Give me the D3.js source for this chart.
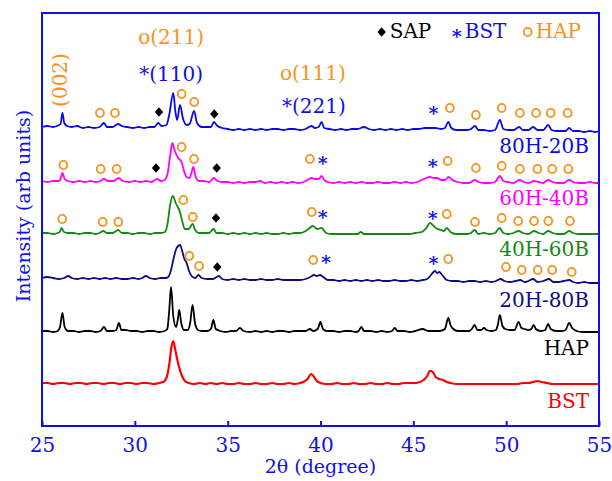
<!DOCTYPE html>
<html>
<head>
<meta charset="utf-8">
<script src="https://cdn.jsdelivr.net/npm/d3@7"></script>
<style>
  html, body { margin: 0; padding: 0; background: #fff; }
  svg { display: block; }
  text { font-family: "DejaVu Serif", "Liberation Serif", serif; }
</style>
</head>
<body>
<svg id="chart" width="612" height="481"></svg>
<script>
// XRD patterns, 2θ (degree) vs relative intensity above each pattern's own baseline
const pat80H20B = [[25.0,0],[25.3,1],[25.6,0],[25.8,1],[26.0,3],[26.1,14],[26.2,4],[26.35,1],[26.6,0],[26.9,1],[27.2,-1],[27.5,0],[27.8,-1],[28.1,0],[28.34,4],[28.5,0],[28.8,0],[29.1,3],[29.3,1],[29.6,0],[29.9,-1],[30.2,0],[30.5,-1],[30.8,0],[31.05,0],[31.26,4],[31.45,1],[31.7,2],[31.85,12],[32.07,34],[32.18,16],[32.28,7],[32.43,22],[32.6,8],[32.8,2],[32.95,3],[33.19,16],[33.35,4],[33.6,0],[33.9,0],[34.1,0],[34.26,5],[34.45,1],[34.7,-1],[35.0,-2],[35.3,-3],[35.6,-2],[35.9,-3],[36.2,-2],[36.5,-3],[36.8,-2],[37.1,-3],[37.4,-2],[37.7,-2],[38.0,-3],[38.3,-2],[38.6,-2],[38.9,-3],[39.2,-2],[39.52,1],[39.7,-1],[39.9,0],[40.06,5],[40.2,-1],[40.5,-2],[40.8,-3],[41.1,-2],[41.4,-3],[41.7,-2],[42.0,-2],[42.34,0],[42.6,-2],[42.9,-3],[43.2,-2],[43.5,-3],[43.8,-2],[44.1,-3],[44.4,-2],[44.7,-3],[45.0,-2],[45.3,-2],[45.6,-1],[45.9,-1],[46.2,-1],[46.5,-2],[46.7,-1],[46.88,5],[47.05,-1],[47.3,-3],[47.6,-3],[47.9,-3],[48.1,-2],[48.32,1],[48.5,-3],[48.8,-3],[49.1,-4],[49.4,-3],[49.66,7],[49.85,-2],[50.1,-3],[50.4,-3],[50.7,0],[50.9,-3],[51.2,-3],[51.45,0],[51.7,-3],[52.0,-3],[52.26,2],[52.45,-3],[52.7,-4],[53.0,-4],[53.2,-4],[53.39,-1],[53.6,-4],[53.9,-4],[54.2,-5],[54.5,-4],[54.8,-5],[55.0,-4]];

const pat60H40B = [[25.0,0],[25.3,-1],[25.6,0],[25.9,0],[26.0,2],[26.1,8],[26.22,2],[26.4,0],[26.7,-1],[27.0,0],[27.3,-1],[27.6,0],[27.9,-1],[28.15,0],[28.34,2],[28.55,0],[28.85,0],[29.14,3],[29.35,0],[29.7,-1],[30.0,0],[30.3,-1],[30.6,0],[30.9,-1],[31.2,2],[31.4,0],[31.6,1],[31.75,6],[31.9,25],[32.02,38],[32.15,30],[32.34,23],[32.52,19],[32.65,10],[32.79,4],[32.95,3],[33.05,8],[33.15,14],[33.28,4],[33.45,0],[33.7,0],[34.0,-1],[34.26,3],[34.45,0],[34.7,-1],[35.0,-1],[35.3,-2],[35.6,-1],[35.9,-2],[36.2,-1],[36.5,-1],[36.75,0],[37.0,-2],[37.3,-1],[37.6,-2],[37.9,-1],[38.2,-2],[38.5,-1],[38.8,-2],[39.1,-1],[39.3,1],[39.52,3],[39.7,2],[39.9,2],[40.06,5],[40.2,1],[40.4,-1],[40.7,-2],[41.0,-1],[41.3,-2],[41.6,-1],[41.9,-2],[42.2,-1],[42.5,-2],[42.8,-2],[43.1,-1],[43.4,-2],[43.7,-2],[44.0,-1],[44.3,-2],[44.6,-1],[44.9,-2],[45.2,-1],[45.45,1],[45.7,3],[45.9,4],[46.1,3],[46.3,3],[46.5,1],[46.7,1],[46.9,4],[47.1,1],[47.4,-1],[47.7,-2],[48.0,-2],[48.3,1],[48.5,-1],[48.8,-2],[49.1,-2],[49.4,-1],[49.66,5],[49.85,0],[50.1,-1],[50.4,-2],[50.7,1],[50.95,-1],[51.2,-2],[51.5,0],[51.75,-1],[52.0,-2],[52.26,1],[52.5,-1],[52.8,-2],[53.1,-2],[53.39,1],[53.6,-1],[53.9,-2],[54.2,-2],[54.5,-1],[54.8,-2],[55.0,-2]];

const pat40H60B = [[25.0,0],[25.3,0],[25.6,-1],[25.85,0],[25.95,1],[26.06,5],[26.18,1],[26.4,0],[26.7,0],[27.0,-1],[27.3,0],[27.6,0],[27.9,-1],[28.1,0],[28.3,2],[28.5,0],[28.8,0],[29.1,3],[29.3,0],[29.6,0],[29.9,-1],[30.2,0],[30.5,0],[30.8,-1],[31.1,0],[31.4,0],[31.62,1],[31.75,8],[31.9,28],[32.04,37],[32.2,30],[32.43,21],[32.55,12],[32.7,4],[32.9,4],[33.11,9],[33.25,3],[33.45,0],[33.7,0],[34.0,0],[34.23,4],[34.4,0],[34.7,0],[35.0,-1],[35.3,0],[35.6,-1],[35.9,0],[36.2,-1],[36.5,0],[36.8,-1],[37.1,0],[37.4,-1],[37.7,-1],[38.0,0],[38.3,-1],[38.6,0],[38.9,0],[39.1,1],[39.35,4],[39.58,7],[39.83,4],[40.06,5],[40.3,0],[40.6,-1],[40.9,-1],[41.2,-1],[41.5,-1],[41.8,-1],[42.0,-1],[42.17,1],[42.35,-1],[42.7,-1],[43.0,-1],[43.3,-1],[43.6,-1],[43.9,-1],[44.2,-1],[44.5,-1],[44.8,-1],[45.1,0],[45.45,1],[45.7,5],[45.9,10],[46.1,7],[46.3,4],[46.5,3],[46.65,2],[46.8,5],[47.0,1],[47.3,-1],[47.6,-1],[47.9,-1],[48.1,0],[48.3,3],[48.5,-1],[48.8,0],[49.1,-1],[49.4,0],[49.65,5],[49.85,0],[50.1,-1],[50.4,0],[50.67,2],[50.9,0],[51.2,-1],[51.5,2],[51.75,0],[52.0,-1],[52.26,2],[52.5,0],[52.8,-1],[53.1,-1],[53.4,2],[53.6,0],[53.9,-1],[54.2,-1],[54.5,-1],[54.8,-1],[55.0,-1]];

const pat20H80B = [[25.0,0],[25.3,1],[25.6,0],[25.9,-1],[26.2,0],[26.42,2],[26.6,0],[26.9,-1],[27.2,0],[27.5,-1],[27.8,0],[28.1,-1],[28.4,0],[28.7,-1],[29.0,0],[29.3,-1],[29.6,-1],[29.9,0],[30.2,-1],[30.4,0],[30.6,2],[30.8,0],[31.1,-1],[31.4,0],[31.65,0],[31.8,1],[31.95,8],[32.07,18],[32.25,30],[32.43,33],[32.55,27],[32.65,20],[32.79,15],[32.92,7],[33.06,2],[33.25,0],[33.43,3],[33.6,0],[33.9,-1],[34.2,-1],[34.53,2],[34.7,-1],[35.0,-2],[35.3,-1],[35.6,-2],[35.9,-1],[36.2,-2],[36.5,-2],[36.8,-1],[37.1,-2],[37.4,-2],[37.7,-1],[38.0,-2],[38.3,-2],[38.6,-2],[38.9,-2],[39.2,-1],[39.45,1],[39.65,3],[39.8,2],[39.97,3],[40.15,1],[40.4,-2],[40.7,-2],[41.0,-3],[41.3,-2],[41.6,-3],[41.9,-2],[42.2,-3],[42.5,-2],[42.8,-3],[43.1,-2],[43.4,-3],[43.7,-3],[44.0,-2],[44.3,-3],[44.6,-3],[44.9,-2],[45.2,-3],[45.5,-2],[45.75,-1],[45.95,3],[46.16,7],[46.28,5],[46.4,6],[46.55,3],[46.8,-2],[47.1,-3],[47.4,-3],[47.7,-4],[48.0,-3],[48.3,-3],[48.6,-4],[48.9,-3],[49.2,-4],[49.45,-3],[49.7,-1],[49.9,-3],[50.2,-4],[50.5,-3],[50.75,-2],[51.0,-4],[51.2,-3],[51.45,-1],[51.7,-4],[52.0,-3],[52.3,-1],[52.55,-4],[52.8,-4],[53.1,-3],[53.4,-2],[53.6,-4],[53.9,-5],[54.2,-4],[54.5,-5],[54.8,-5],[55.0,-5]];

const patHAP = [[25.0,0],[25.3,0],[25.6,-1],[25.85,0],[25.97,4],[26.1,18],[26.22,4],[26.4,0],[26.7,0],[27.0,-1],[27.3,0],[27.6,0],[27.9,-1],[28.15,0],[28.34,4],[28.5,0],[28.8,0],[29.0,1],[29.14,8],[29.28,1],[29.5,1],[29.8,0],[30.1,0],[30.4,-1],[30.7,0],[31.0,0],[31.3,-1],[31.6,0],[31.75,2],[31.85,20],[31.95,44],[32.07,15],[32.22,4],[32.32,12],[32.39,21],[32.5,8],[32.65,1],[32.85,1],[32.98,8],[33.11,26],[33.24,8],[33.4,1],[33.6,0],[33.9,0],[34.1,2],[34.23,11],[34.36,2],[34.6,0],[34.9,-1],[35.2,0],[35.45,0],[35.66,3],[35.85,0],[36.2,-1],[36.5,0],[36.8,-1],[37.1,0],[37.4,-1],[37.7,0],[38.0,0],[38.3,-1],[38.6,0],[38.9,0],[39.2,0],[39.43,2],[39.6,0],[39.85,2],[40.0,9],[40.13,2],[40.35,0],[40.7,0],[41.0,-1],[41.3,0],[41.6,0],[41.9,-1],[42.05,0],[42.2,4],[42.35,0],[42.7,0],[43.0,-1],[43.3,0],[43.6,-1],[43.85,0],[44.0,3],[44.15,0],[44.5,0],[44.8,-1],[45.1,0],[45.5,2],[45.8,0],[46.1,0],[46.4,0],[46.7,2],[46.88,13],[47.0,6],[47.15,2],[47.4,0],[47.7,0],[48.0,0],[48.15,2],[48.3,6],[48.45,1],[48.65,1],[48.8,3],[48.95,1],[49.2,0],[49.45,1],[49.55,6],[49.66,16],[49.8,5],[49.95,2],[50.2,1],[50.45,1],[50.67,9],[50.82,3],[51.0,2],[51.2,1],[51.35,2],[51.48,6],[51.6,2],[51.85,0],[52.1,1],[52.26,7],[52.4,2],[52.7,0],[53.0,0],[53.2,1],[53.39,8],[53.55,3],[53.8,0],[54.1,-1],[54.4,-1],[54.7,-1],[55.0,-1]];

const patBST = [[25.0,0],[25.3,0],[25.6,-1],[25.9,0],[26.2,0],[26.5,-1],[26.8,0],[27.1,0],[27.4,-1],[27.7,0],[28.0,0],[28.3,-1],[28.6,0],[28.9,0],[29.2,-1],[29.5,0],[29.8,0],[30.1,-1],[30.4,0],[30.7,0],[31.0,-1],[31.3,0],[31.53,1],[31.7,5],[31.85,18],[31.97,36],[32.07,42],[32.18,33],[32.34,19],[32.52,8],[32.7,2],[32.9,0],[33.2,-1],[33.5,0],[33.8,-1],[34.1,0],[34.4,-1],[34.7,0],[35.0,-1],[35.3,-1],[35.6,0],[35.9,-1],[36.2,-1],[36.5,0],[36.8,-1],[37.1,-1],[37.4,0],[37.7,-1],[38.0,-1],[38.3,0],[38.6,-1],[38.9,0],[39.07,1],[39.3,4],[39.49,9],[39.62,7],[39.8,2],[40.0,0],[40.3,-1],[40.6,-1],[40.9,0],[41.2,-1],[41.5,-1],[41.8,0],[42.1,-1],[42.4,-1],[42.7,0],[43.0,-1],[43.3,-1],[43.6,0],[43.9,-1],[44.2,-1],[44.5,0],[44.8,0],[45.1,0],[45.35,1],[45.55,3],[45.75,7],[45.88,12],[45.97,12],[46.08,10],[46.2,6],[46.4,4],[46.6,3],[46.8,1],[47.0,0],[47.3,-1],[47.6,-1],[47.9,-1],[48.2,-1],[48.5,-1],[48.8,-1],[49.1,-1],[49.4,-1],[49.7,-1],[50.0,-1],[50.3,-1],[50.6,-1],[50.9,0],[51.2,0],[51.45,1],[51.68,2],[51.9,1],[52.2,0],[52.5,-1],[52.8,-1],[53.1,-1],[53.4,-1],[53.7,-1],[54.0,-1],[54.3,-1],[54.6,-1],[55.0,-1]];

// stacking: name, pattern and vertical offset of each sample
const seriesNames   = ["80H-20B", "60H-40B", "40H-60B", "20H-80B", "HAP", "BST"];
const seriesData    = [pat80H20B, pat60H40B, pat40H60B, pat20H80B, patHAP, patBST];
const seriesOffsets = [299, 245, 193, 148, 95, 43];
const seriesColors  = ["#0a0ae6", "#ff00ff", "#128a12", "#0c0c82", "#000000", "#ff0000"];
const seriesWidths  = [1.8, 1.8, 1.8, 1.8, 1.8, 2.2];

// phase markers (2θ, stacked intensity)
const hapMarks = [[28.12,313],[28.93,313],[32.52,332],[33.20,324],[46.97,318],[48.37,311],[49.76,318],[50.74,313],[51.61,313],[52.40,313],[53.31,313],
  [26.15,261],[28.16,257],[29.02,257],[32.52,279],[33.19,267],[39.43,267],[46.85,265],[48.37,258],[49.76,260],[50.74,257],[51.68,257],[52.48,257],[53.35,257],
  [26.09,207],[28.27,204],[29.11,204],[32.61,226],[33.12,209],[39.53,214],[46.80,212],[48.32,204],[49.76,208],[50.65,205],[51.50,205],[52.27,205],[53.44,205],
  [32.93,170],[33.46,160],[39.61,166],[46.88,167],[49.99,159],[50.84,156],[51.70,156],[52.48,156],[53.53,154]];
const bstMarks = [[46.08,317],[40.12,267],[46.04,264],[40.12,213],[46.04,212],[40.30,168],[46.08,167]];
const sapMarks = [[31.30,314],[34.28,312],[31.14,258],[34.41,258],[34.37,208],[34.44,159]];

// Miller indices (2θ, stacked intensity of text baseline)
const hklLabels = [
  { text: "(002)",  theta: 26.37, level: 346, color: "#f7931e", rotate: true },
  { text: "o(211)", theta: 30.18, level: 382, color: "#f7931e" },
  { text: "*(110)", theta: 30.24, level: 345, color: "#1010ee" },
  { text: "o(111)", theta: 37.82, level: 346, color: "#f7931e" },
  { text: "*(221)", theta: 37.93, level: 313, color: "#1010ee" }
];

const xTicks = [25, 30, 35, 40, 45, 50, 55];
const legendItems = [
  { mark: "sap", label: "SAP", color: "#000000" },
  { mark: "bst", label: "BST", color: "#1010ee" },
  { mark: "hap", label: "HAP", color: "#f7931e" }
];

const orange = "#f7931e";
const axisBlue = "#1010ee";

const margin = { top: 13, right: 13, bottom: 55, left: 42 };
const W = 612, H = 481;
const iw = W - margin.left - margin.right;
const ih = H - margin.top - margin.bottom;

const svg = d3.select("#chart");
const g = svg.append("g").attr("transform", `translate(${margin.left},${margin.top})`);

const x = d3.scaleLinear().domain([25, 55]).range([0, iw]);
const y = d3.scaleLinear().domain([0, ih]).range([ih, 0]);

// patterns
const line = d3.line().curve(d3.curveMonotoneX);
seriesData.forEach((pts, i) => {
  g.append("path")
    .datum(pts)
    .attr("fill", "none")
    .attr("stroke", seriesColors[i])
    .attr("stroke-width", seriesWidths[i])
    .attr("stroke-linejoin", "round")
    .attr("d", line.x(d => x(d[0])).y(d => y(d[1] + seriesOffsets[i])));
});

// sample names at the right end of each pattern
const nameBaselines = [153, 205, 256, 307, 355, 408];
g.selectAll(".sname").data(seriesNames).join("text")
  .attr("class", "sname")
  .attr("x", iw - 10)
  .attr("y", (d, i) => nameBaselines[i] - margin.top)
  .attr("text-anchor", "end")
  .attr("font-size", 20)
  .attr("fill", (d, i) => seriesColors[i])
  .text(d => d);

// marker glyphs: open circle (HAP), asterisk (BST), diamond (SAP)
const diamond = {
  draw(ctx) {
    const w = 4.2, h = 4.8;
    ctx.moveTo(0, -h); ctx.lineTo(w, 0); ctx.lineTo(0, h); ctx.lineTo(-w, 0); ctx.closePath();
  }
};
const diamondPath = d3.symbol().type(diamond)();

function drawHap(sel) {
  sel.append("ellipse").attr("rx", 3.9).attr("ry", 4.1)
    .attr("fill", "none").attr("stroke", orange).attr("stroke-width", 1.9);
}
function drawBst(sel) {
  sel.append("text").attr("text-anchor", "middle").attr("font-size", 19)
    .attr("font-weight", "bold").attr("dy", 11).attr("fill", axisBlue).text("*");
}
function drawSap(sel) {
  sel.append("path").attr("d", diamondPath).attr("fill", "#000");
}

g.selectAll(".hap").data(hapMarks).join("g").attr("class", "hap")
  .attr("transform", d => `translate(${x(d[0])},${y(d[1])})`).call(drawHap);
g.selectAll(".bst").data(bstMarks).join("g").attr("class", "bst")
  .attr("transform", d => `translate(${x(d[0])},${y(d[1])})`).call(drawBst);
g.selectAll(".sap").data(sapMarks).join("g").attr("class", "sap")
  .attr("transform", d => `translate(${x(d[0])},${y(d[1])})`).call(drawSap);

// Miller index labels
hklLabels.forEach(l => {
  const t = g.append("text").attr("font-size", 20).attr("fill", l.color).text(l.text);
  if (l.rotate) {
    t.attr("text-anchor", "middle")
     .attr("transform", `translate(${x(l.theta)},${y(l.level)}) rotate(-90)`);
  } else {
    t.attr("x", x(l.theta)).attr("y", y(l.level));
  }
});

// legend
const legend = g.append("g").attr("transform", `translate(${339.7},${19})`);
const legendX = [0, 75, 146];
legendItems.forEach((it, i) => {
  const li = legend.append("g").attr("transform", `translate(${legendX[i]},0)`);
  if (it.mark === "sap") li.call(drawSap);
  if (it.mark === "bst") li.append("text").attr("text-anchor", "middle").attr("font-size", 19)
      .attr("font-weight", "bold").attr("dy", 11).attr("fill", axisBlue).text("*");
  if (it.mark === "hap") li.call(drawHap);
  li.append("text").attr("x", 8).attr("y", 6).attr("font-size", 20)
    .attr("fill", it.color).text(it.label);
});

// frame
g.append("rect").attr("x", 0).attr("y", 0).attr("width", iw).attr("height", ih)
  .attr("fill", "none").attr("stroke", axisBlue).attr("stroke-width", 2);

// bottom axis: inward ticks, labels below
const xAxis = d3.axisBottom(x).tickValues(xTicks).tickSizeInner(-5).tickSizeOuter(0).tickPadding(12)
  .tickFormat(d3.format("d"));
const ax = g.append("g").attr("transform", `translate(0,${ih})`).call(xAxis);
ax.select(".domain").remove();
ax.selectAll("line").attr("stroke", axisBlue).attr("stroke-width", 2);
ax.selectAll("text").attr("fill", axisBlue).attr("font-size", 20)
  .attr("font-family", "DejaVu Serif, serif").attr("dy", "0.71em");

// axis titles
g.append("text").attr("x", x(40)).attr("y", 473 - margin.top)
  .attr("text-anchor", "middle").attr("font-size", 19).attr("fill", axisBlue)
  .text("2θ (degree)");
svg.append("text")
  .attr("transform", `translate(30,206) rotate(-90)`)
  .attr("text-anchor", "middle").attr("font-size", 19).attr("fill", axisBlue)
  .text("Intensity (arb units)");
</script>
</body>
</html>
